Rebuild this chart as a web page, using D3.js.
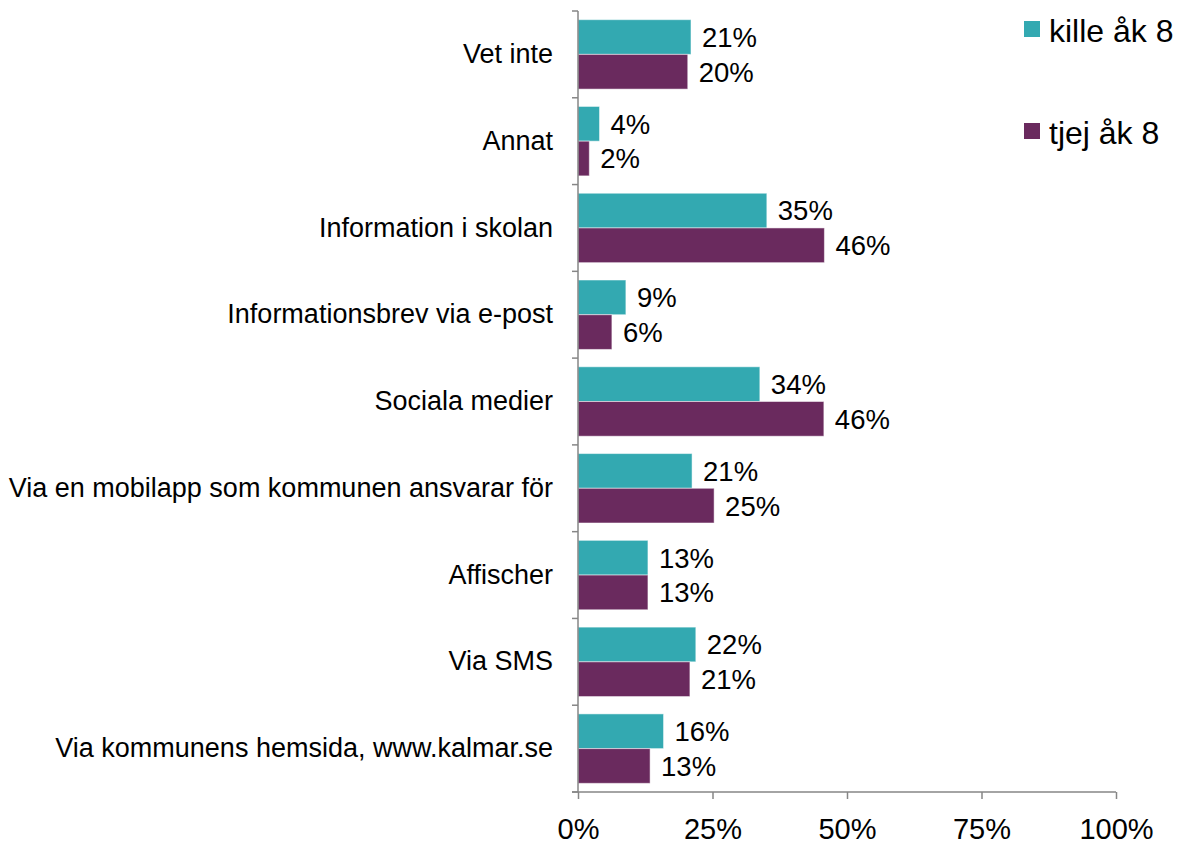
<!DOCTYPE html>
<html>
<head>
<meta charset="utf-8">
<script src="https://cdn.jsdelivr.net/npm/d3@7"></script>
<style>
  body { margin: 0; background: #fff; }
  svg { display: block; font-family: "Liberation Sans", Arial, sans-serif; }
</style>
</head>
<body>
<svg></svg>
<script>
// data
const categories = [
    "Vet inte",
    "Annat",
    "Information i skolan",
    "Informationsbrev via e-post",
    "Sociala medier",
    "Via en mobilapp som kommunen ansvarar för",
    "Affischer",
    "Via SMS",
    "Via kommunens hemsida, www.kalmar.se"
];
const seriesNames = ["kille åk 8", "tjej åk 8"];
const killeValues = [21.0, 4.0, 35.1, 8.9, 33.8, 21.2, 13.0, 21.9, 15.9];
const tjejValues = [20.4, 2.1, 45.8, 6.3, 45.7, 25.3, 13.0, 20.8, 13.4];
const xTicks = [0, 25, 50, 75, 100];

const width = 1185;
const height = 845;
const colors = ["#33a9b1", "#6a2a5e"];
const axisColor = "#868686";

let svg = d3.select("svg")
    .attr("width", width)
    .attr("height", height);

const x = d3.scaleLinear().domain([0, 100]).range([578, 1116]);

const y = d3.scaleBand()
    .domain(categories)
    .range([11, 792])
    .paddingInner(0.2)
    .paddingOuter(0.1);

const ySub = d3.scaleBand()
    .domain([0, 1])
    .range([0, y.bandwidth()]);

const series = [killeValues, tjejValues];

// bars
series.forEach((vals, s) => {
    let rows = categories.map((c, i) => ({cat: c, value: vals[i]}));
    let g = svg.append("g");
    g.selectAll("rect")
        .data(rows)
        .enter().append("rect")
        .attr("x", x(0))
        .attr("y", d => y(d.cat) + ySub(s))
        .attr("width", d => x(d.value) - x(0))
        .attr("height", ySub.bandwidth())
        .attr("fill", colors[s])
        .attr("stroke", "#ffffff")
        .attr("stroke-opacity", 0.5)
        .attr("stroke-width", 1);

    g.selectAll("text")
        .data(rows)
        .enter().append("text")
        .attr("x", d => x(d.value) + 11)
        .attr("y", d => y(d.cat) + ySub(s) + ySub.bandwidth() / 2)
        .attr("dy", "0.36em")
        .style("font-size", "27.5px")
        .attr("fill", "#000")
        .text(d => Math.round(d.value) + "%");
});

// y axis: line, labels at band centres, ticks on band borders
let yAxis = svg.append("g")
    .attr("transform", `translate(${x(0)},0)`)
    .call(d3.axisLeft(y).tickSize(0).tickPadding(25));
yAxis.select(".domain").attr("stroke", axisColor).attr("stroke-width", 1.5)
    .attr("d", `M0,${y.range()[0]}V${y.range()[1]}`);
yAxis.selectAll("text").style("font-size", "27px").attr("fill", "#000");

let borders = d3.range(categories.length + 1).map(i => y.range()[0] + i * y.step());
svg.append("g").selectAll("line")
    .data(borders)
    .enter().append("line")
    .attr("x1", x(0) - 6)
    .attr("x2", x(0))
    .attr("y1", d => d)
    .attr("y2", d => d)
    .attr("stroke", axisColor)
    .attr("stroke-width", 1.5);

// x axis
let xAxis = svg.append("g")
    .attr("transform", `translate(0,${y.range()[1]})`)
    .call(d3.axisBottom(x).tickValues(xTicks).tickSize(7).tickPadding(19).tickFormat(d => d + "%"));
xAxis.select(".domain").attr("stroke", axisColor).attr("stroke-width", 1.5)
    .attr("d", `M${x(0) - 6},0H${x(100)}`);
xAxis.selectAll(".tick line").attr("stroke", axisColor).attr("stroke-width", 1.5);
xAxis.selectAll("text").style("font-size", "29px").attr("fill", "#000");

// legend
let legend = svg.selectAll(".lineLegend")
    .data(seriesNames)
    .enter()
    .append("g")
    .attr("class", "lineLegend")
    .attr("transform", (d, i) => `translate(1024, ${21 + i * 102})`);

legend.append("rect")
    .attr("width", 16)
    .attr("height", 16)
    .attr("fill", (d, i) => colors[i]);

legend.append("text")
    .attr("x", 25)
    .attr("y", 21)
    .style("font-size", "32px")
    .attr("fill", "#000")
    .text(d => d);
</script>
</body>
</html>
